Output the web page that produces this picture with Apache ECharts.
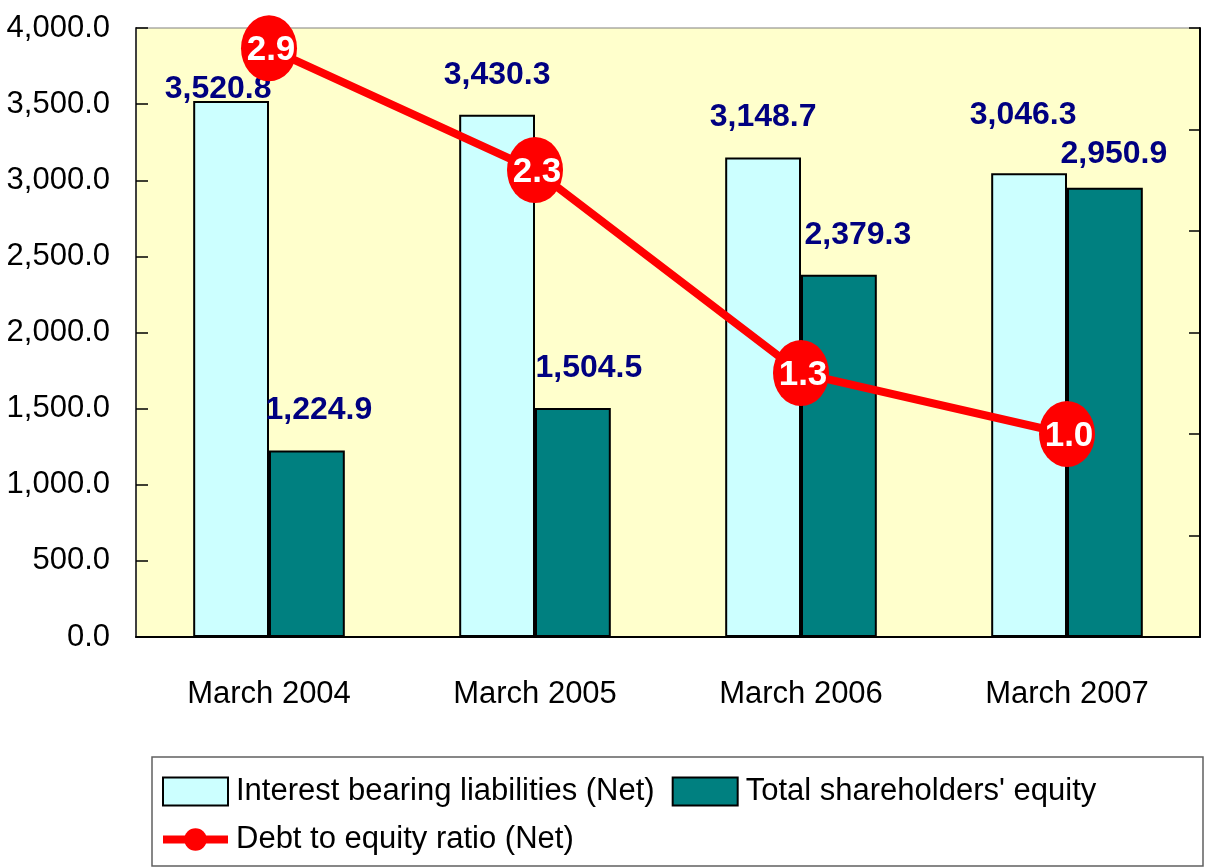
<!DOCTYPE html>
<html>
<head>
<meta charset="utf-8">
<script src="https://cdn.jsdelivr.net/npm/echarts@6/dist/echarts.min.js"></script>
<style>
html,body{margin:0;padding:0;background:#fff;}
#chart{width:1206px;height:868px;}
</style>
</head>
<body>
<div id="chart"></div>
<script>
var categories = ['March 2004', 'March 2005', 'March 2006', 'March 2007'];
var liabilities = [3520.8, 3430.3, 3148.7, 3046.3];
var equity = [1224.9, 1504.5, 2379.3, 2950.9];
var ratio = [2.9, 2.3, 1.3, 1.0];
var seriesNames = ['Interest bearing liabilities (Net)', "Total shareholders' equity", 'Debt to equity ratio (Net)'];

function fmt(v, d) {
  var s = Number(v).toFixed(d);
  var parts = s.split('.');
  parts[0] = parts[0].replace(/\B(?=(\d{3})+(?!\d))/g, ',');
  return parts.join('.');
}

var FONT = "'Liberation Sans', Arial, sans-serif";

// label nudges (layout only)
var liabOffsets = [[-13, 28], [0, 0], [0, 0], [-6, -18]];
var eqOffsets = [[12, 0], [16, 0], [19, 0], [9, 6]];

var liabData = liabilities.map(function (v, i) {
  return { value: v, label: { offset: liabOffsets[i] } };
});
var eqData = equity.map(function (v, i) {
  return { value: v, label: { offset: eqOffsets[i] } };
});

var chart = echarts.init(document.getElementById('chart'));
chart.setOption({
  backgroundColor: '#ffffff',
  animation: false,
  textStyle: { fontFamily: FONT },
  grid: {
    left: 136, right: 6, top: 28, bottom: 231,
    show: true, backgroundColor: '#FFFFCC', borderColor: '#808080', borderWidth: 1
  },
  graphic: [{
    type: 'rect',
    shape: { x: 152, y: 757, width: 1051, height: 109 },
    style: { fill: 'none', stroke: '#606060', lineWidth: 1.5 },
    z: 1
  }],
  legend: {
    left: 154, top: 771, width: 1040,
    itemWidth: 65, itemHeight: 28, itemGap: 17,
    textStyle: { fontFamily: FONT, fontSize: 31, color: '#000', padding: [0, 0, 0, 3] },
    data: [
      { name: seriesNames[0], icon: 'rect', itemStyle: { borderColor: '#000', borderWidth: 2 } },
      { name: seriesNames[1], icon: 'rect', itemStyle: { borderColor: '#000', borderWidth: 2 } },
      { name: seriesNames[2], lineStyle: { width: 8 } }
    ]
  },
  xAxis: {
    type: 'category',
    data: categories,
    axisLine: { lineStyle: { color: '#000', width: 2 } },
    axisTick: { show: false },
    axisLabel: { fontFamily: FONT, fontSize: 31, color: '#000', margin: 42 }
  },
  yAxis: [{
    type: 'value', min: 0, max: 4000, interval: 500,
    axisLine: { show: true, lineStyle: { color: '#404040', width: 2 } },
    axisTick: { show: true, inside: true, length: 12, lineStyle: { color: '#000', width: 1.5 } },
    splitLine: { show: false },
    axisLabel: { fontFamily: FONT, fontSize: 31, color: '#000', margin: 26, formatter: function (v) { return fmt(v, 1); } }
  }, {
    type: 'value', min: 0, max: 3, interval: 0.5, position: 'right',
    axisLine: { show: true, lineStyle: { color: '#000', width: 2 } },
    axisTick: { show: true, inside: true, length: 11, lineStyle: { color: '#000', width: 1.5 } },
    splitLine: { show: false },
    axisLabel: { show: false }
  }],
  series: [{
    name: seriesNames[0],
    type: 'bar',
    data: liabData,
    barGap: '0%',
    barCategoryGap: '43%',
    itemStyle: { color: '#CCFFFF', borderColor: '#000', borderWidth: 2 },
    label: {
      show: true, position: 'top', distance: 24,
      fontFamily: FONT, fontSize: 32, fontWeight: 'bold', color: '#000080',
      formatter: function (p) { return fmt(p.value, 1); }
    },
    z: 2
  }, {
    name: seriesNames[1],
    type: 'bar',
    data: eqData,
    itemStyle: { color: '#008080', borderColor: '#000', borderWidth: 2 },
    label: {
      show: true, position: 'top', distance: 24,
      fontFamily: FONT, fontSize: 32, fontWeight: 'bold', color: '#000080',
      formatter: function (p) { return fmt(p.value, 1); }
    },
    z: 2
  }, {
    name: seriesNames[2],
    type: 'line',
    yAxisIndex: 1,
    data: ratio,
    symbol: 'circle',
    symbolSize: [56, 66],
    lineStyle: { color: '#FF0000', width: 8 },
    itemStyle: { color: '#FF0000' },
    label: {
      show: true, position: 'inside', offset: [2, 2],
      fontFamily: FONT, fontSize: 35, fontWeight: 'bold', color: '#ffffff',
      formatter: function (p) { return fmt(p.value, 1); }
    },
    z: 5
  }]
});
</script>
</body>
</html>
